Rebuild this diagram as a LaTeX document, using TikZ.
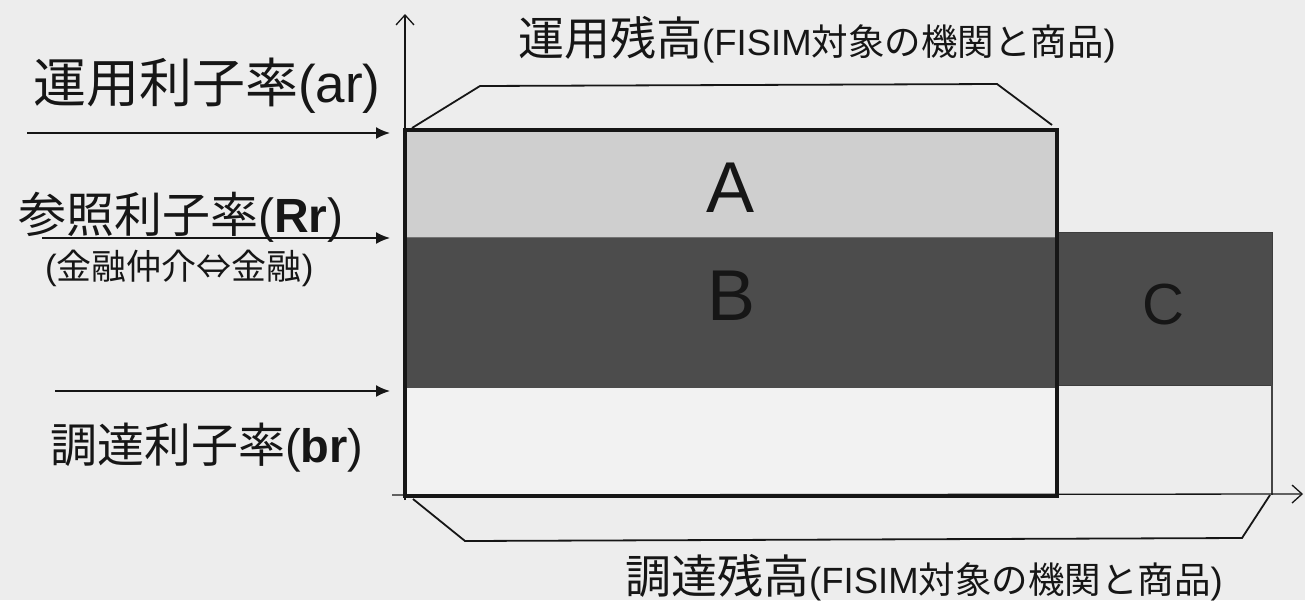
\documentclass[tikz,border=0pt]{standalone}
\usepackage{fontspec}
\setmainfont{Liberation Sans}
\newfontfamily\jp{Noto Sans CJK JP}
\usetikzlibrary{positioning,arrows.meta}

\definecolor{paper}{RGB}{237,237,237}
\definecolor{lowband}{RGB}{242,242,242}
\definecolor{bandA}{RGB}{207,207,207}
\definecolor{bandB}{RGB}{76,76,76}
\definecolor{ink}{RGB}{22,22,22}

\begin{document}
\begin{tikzpicture}[
    x=1pt, y=-1pt,
    rate/.style={-{Latex[length=14pt,width=12pt]}, line width=1.8pt, draw=ink},
    axis/.style={-{Straight Barb[length=10pt,width=18pt]}, line width=1.3pt, draw=ink},
    hull/.style={line width=1.8pt, draw=ink},
    ratelabel/.style={anchor=west, inner sep=0pt, text=ink, font=\fontsize{47}{50}\selectfont},
    stocklabel/.style={anchor=west, inner sep=0pt, text=ink, font=\fontsize{46}{48}\selectfont},
    letter/.style={inner sep=0pt, text=ink, font=\fontsize{72}{72}\selectfont}
]
\useasboundingbox[fill=paper] (0,0) rectangle (1305,600);

% points
\coordinate (o) at (405,496);
\coordinate (ytop) at (405,14);
\coordinate (xleft) at (392,495);
\coordinate (xend) at (1303,494);

% bands
\fill[lowband] (405,388) rectangle (1057,496);
\fill[bandA] (405,130) rectangle (1057,237);
\fill[bandB] (405,237) rectangle (1057,388);
\draw[bandB!80!black, line width=1pt, fill=bandB] (1057,232) rectangle (1272,385);
\draw[line width=0.8pt, draw=ink!60] (405,237) -- (1057,237);

% outlines
\draw[hull] (412,128) -- (480,86) -- (997,84) -- (1052,125);
\draw[hull] (413,499) -- (465,541) -- (1242,538) -- (1270,495);
\draw[line width=1.6pt, draw=ink!80] (1272,385) -- (1272,495);

% axes
\draw[axis] (405,500) -- (ytop);
\draw[axis] (xleft) -- (xend);

% main box
\draw[line width=4.5pt, draw=ink] (405,130) rectangle (1057,496);

% rates
\coordinate (ar-tail) at (27,133);
\coordinate (ar-head) at (390,133);
\coordinate (Rr-tail) at (42,238);
\coordinate (Rr-head) at (390,238);
\coordinate (br-tail) at (55,391);
\coordinate (br-head) at (390,391);
\draw[rate] (ar-tail) -- (ar-head);
\draw[rate] (Rr-tail) -- (Rr-head);
\draw[rate] (br-tail) -- (br-head);

\node[ratelabel, font=\fontsize{53}{55}\selectfont] (ar-label) at (33,86) {{\jp 運用利子率}(ar)};
\node[ratelabel, font=\fontsize{48}{50}\selectfont] (Rr-label) at (18,217) {{\jp 参照利子率}(\textbf{Rr})};
\node[anchor=west, inner sep=0pt, text=ink, font=\fontsize{35}{37}\selectfont] (Rr-note) at (45,268) {({\jp 金融仲介⇔金融})};
\node[ratelabel] (br-label) at (50,448) {{\jp 調達利子率}(\textbf{br})};

% stocks
\node[stocklabel] (top-label) at (518,40) {{\jp 運用残高}{\fontsize{36.5}{38}\selectfont (FISIM{\jp 対象の機関と商品})}};
\node[stocklabel] (bottom-label) at (625,578) {{\jp 調達残高}{\fontsize{36.5}{38}\selectfont (FISIM{\jp 対象の機関と商品})}};

% areas
\node[letter] (A) at (731,188) {A};
\node[letter] (B) at (732,296) {B};
\node[letter, font=\fontsize{58}{58}\selectfont] (C) at (1163,305) {C};
\end{tikzpicture}
\end{document}
